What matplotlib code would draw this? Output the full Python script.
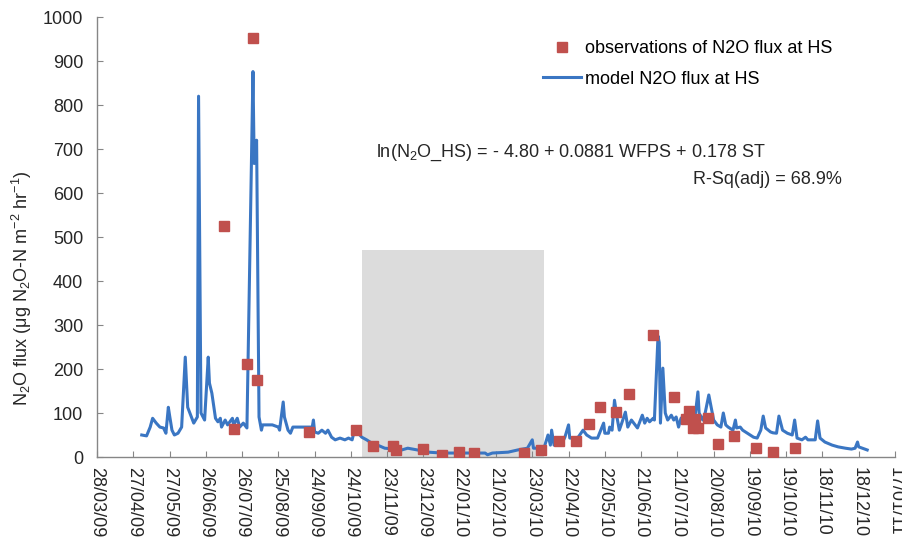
import pandas as pd
import matplotlib
matplotlib.use("Agg")
import matplotlib.pyplot as plt
import matplotlib.dates as mdates

plt.rcParams["font.family"] = ["Liberation Sans", "DejaVu Sans"]
plt.rcParams["mathtext.fontset"] = "custom"
plt.rcParams["mathtext.rm"] = "Liberation Sans"
plt.rcParams["mathtext.it"] = "Liberation Sans:italic"

# ── DATA ────────────────────────────────────────────────────────────
# observations of N2O flux at HS (ug N2O-N m-2 hr-1)
obs_dates = [
    "2009-07-11", "2009-08-04", "2009-07-30", "2009-08-07", "2009-07-19",
    "2009-09-19", "2009-10-28", "2009-11-11", "2009-11-28", "2009-11-30",
    "2009-12-23", "2010-01-07", "2010-01-21", "2010-02-03", "2010-03-16",
    "2010-03-30", "2010-04-14", "2010-04-28", "2010-05-09", "2010-05-18",
    "2010-05-31", "2010-06-11", "2010-07-01", "2010-07-18", "2010-07-28",
    "2010-07-31", "2010-08-03", "2010-08-05", "2010-08-07", "2010-08-15",
    "2010-08-24", "2010-09-06", "2010-09-24", "2010-10-08", "2010-10-26",
]
obs_flux = [
    524, 953, 211, 175, 64,
    57, 61, 25, 25, 16,
    18, 5, 11, 9, 9,
    16, 36, 36, 75, 113,
    102, 143, 277, 136, 86,
    104, 66, 86, 66, 89,
    30, 48, 20, 11, 20,
]

# model N2O flux at HS
model_dates = [
    "2009-05-04", "2009-05-08", "2009-05-11", "2009-05-13", "2009-05-16",
    "2009-05-19", "2009-05-22", "2009-05-24", "2009-05-26", "2009-05-27",
    "2009-05-29", "2009-05-31", "2009-06-03", "2009-06-06", "2009-06-09",
    "2009-06-11", "2009-06-15", "2009-06-16", "2009-06-19", "2009-06-20",
    "2009-06-22", "2009-06-25", "2009-06-28", "2009-06-29", "2009-07-01",
    "2009-07-04", "2009-07-06", "2009-07-08", "2009-07-09", "2009-07-12",
    "2009-07-14", "2009-07-18", "2009-07-19", "2009-07-22", "2009-07-24",
    "2009-07-27", "2009-07-30", "2009-08-04", "2009-08-05", "2009-08-07",
    "2009-08-09", "2009-08-11", "2009-08-12", "2009-08-20", "2009-08-25",
    "2009-08-26", "2009-08-29", "2009-08-30", "2009-09-02", "2009-09-04",
    "2009-09-06", "2009-09-22", "2009-09-23", "2009-09-24", "2009-09-27",
    "2009-09-30", "2009-10-03", "2009-10-05", "2009-10-08", "2009-10-11",
    "2009-10-15", "2009-10-19", "2009-10-22", "2009-10-25", "2009-10-27",
    "2009-10-30", "2009-11-02", "2009-11-06", "2009-11-10", "2009-11-15",
    "2009-11-21", "2009-11-29", "2009-12-05", "2009-12-10", "2009-12-18",
    "2009-12-27", "2010-01-07", "2010-01-21", "2010-02-04", "2010-02-12",
    "2010-02-14", "2010-02-18", "2010-03-03", "2010-03-11", "2010-03-19",
    "2010-03-23", "2010-03-24", "2010-03-28", "2010-04-02", "2010-04-05",
    "2010-04-07", "2010-04-08", "2010-04-10", "2010-04-13", "2010-04-17",
    "2010-04-19", "2010-04-22", "2010-04-23", "2010-04-27", "2010-04-30",
    "2010-05-04", "2010-05-07", "2010-05-11", "2010-05-16", "2010-05-21",
    "2010-05-22", "2010-05-25", "2010-05-26", "2010-05-28", "2010-05-30",
    "2010-06-01", "2010-06-03", "2010-06-05", "2010-06-08", "2010-06-10",
    "2010-06-13", "2010-06-18", "2010-06-22", "2010-06-24", "2010-06-26",
    "2010-06-28", "2010-07-01", "2010-07-02", "2010-07-05", "2010-07-06",
    "2010-07-07", "2010-07-09", "2010-07-11", "2010-07-13", "2010-07-16",
    "2010-07-18", "2010-07-20", "2010-07-22", "2010-07-24", "2010-07-27",
    "2010-07-29", "2010-08-03", "2010-08-05", "2010-08-07", "2010-08-08",
    "2010-08-11", "2010-08-13", "2010-08-16", "2010-08-18", "2010-08-20",
    "2010-08-23", "2010-08-26", "2010-08-28", "2010-08-30", "2010-09-01",
    "2010-09-05", "2010-09-07", "2010-09-08", "2010-09-11", "2010-09-13",
    "2010-09-17", "2010-09-22", "2010-09-25", "2010-09-28", "2010-09-30",
    "2010-10-02", "2010-10-06", "2010-10-08", "2010-10-11", "2010-10-13",
    "2010-10-16", "2010-10-20", "2010-10-24", "2010-10-26", "2010-10-28",
    "2010-11-01", "2010-11-04", "2010-11-06", "2010-11-12", "2010-11-14",
    "2010-11-16", "2010-11-20", "2010-11-26", "2010-12-01", "2010-12-07",
    "2010-12-12", "2010-12-15", "2010-12-17", "2010-12-18", "2010-12-21",
    "2010-12-25",
]
model_flux = [
    50, 48, 68, 88, 77,
    68, 66, 54, 113, 95,
    61, 50, 54, 68, 227,
    113, 84, 77, 91, 820,
    100, 84, 227, 168, 145,
    88, 80, 88, 68, 84,
    73, 88, 73, 88, 68,
    77, 66, 876, 667, 720,
    91, 61, 73, 73, 68,
    61, 125, 91, 61, 54,
    68, 68, 84, 57, 54,
    61, 54, 61, 45, 39,
    43, 39, 43, 39, 61,
    54, 45, 39, 32, 27,
    20, 18, 16, 20, 16,
    11, 9, 9, 9, 9,
    5, 9, 11, 16, 20,
    39, 20, 20, 23, 50,
    27, 61, 27, 39, 34,
    45, 73, 43, 43, 45,
    61, 50, 43, 43, 77,
    54, 54, 68, 61, 129,
    91, 61, 77, 102, 68,
    84, 66, 95, 77, 88,
    80, 88, 84, 275, 260,
    77, 202, 100, 84, 95,
    84, 91, 68, 88, 95,
    84, 88, 100, 148, 100,
    84, 100, 141, 113, 84,
    73, 68, 100, 73, 68,
    61, 84, 66, 68, 61,
    54, 45, 43, 61, 93,
    66, 57, 55, 54, 93,
    61, 54, 50, 84, 43,
    39, 45, 39, 39, 82,
    43, 34, 27, 23, 20,
    18, 20, 34, 23, 20,
    16,
]

# x axis ticks every 30 days, grey block = unsampled winter period
tick_start = "2009-03-28"
tick_end = "2011-01-17"
winter_start = "2009-11-02"
winter_end = "2010-04-02"
winter_top = 470

# ── PLOT ────────────────────────────────────────────────────────────
obs_dates = pd.to_datetime(obs_dates)
model_dates = pd.to_datetime(model_dates)

fig = plt.figure(figsize=(9.02, 5.45), dpi=100)
ax = fig.add_axes([97 / 902, 88 / 545, 798 / 902, 440 / 545])

ax.fill_between(pd.to_datetime([winter_start, winter_end]), 0, winter_top,
                color="#DCDCDC", linewidth=0, zorder=0)

line, = ax.plot(model_dates, model_flux, color="#3A76C3",
                linewidth=2.2, zorder=2, label="model N2O flux at HS")
pts, = ax.plot(obs_dates, obs_flux, linestyle="none", marker="s",
               markersize=7.5, color="#C0504D", markeredgecolor="#C0504D",
               zorder=3, label="observations of N2O flux at HS")

ax.set_xlim(pd.Timestamp(tick_start), pd.Timestamp(tick_end))
ax.set_ylim(0, 1000)
ax.set_yticks(range(0, 1001, 100))
ax.set_xticks(pd.date_range(tick_start, tick_end, freq="30D"))
ax.xaxis.set_major_formatter(mdates.DateFormatter("%d/%m/%y"))

for s in ["top", "right"]:
    ax.spines[s].set_visible(False)
for s in ["left", "bottom"]:
    ax.spines[s].set_color("#868686")
    ax.spines[s].set_linewidth(1.0)

ax.tick_params(axis="both", direction="in", length=4, color="#868686",
               labelsize=13, labelcolor="#262626")
ax.tick_params(axis="y", pad=10)
ax.tick_params(axis="x", pad=7)
plt.setp(ax.get_xticklabels(), rotation=-90)

ax.set_ylabel(r"N$_2$O flux (μg N$_2$O-N m$^{-2}$ hr$^{-1}$)",
              fontsize=13, color="#262626")
ax.yaxis.set_label_coords(-0.079, 0.384)

ax.legend(handles=[pts, line], loc="upper left",
          bbox_to_anchor=(543 / 902, 1 - 40 / 545),
          bbox_transform=fig.transFigure, frameon=False, fontsize=13,
          handlelength=2.1, handletextpad=0.25, labelspacing=0.75,
          borderpad=0, borderaxespad=0)

fig.text(376 / 902, 1 - 153 / 545,
         r"ln(N$_2$O_HS) = - 4.80 + 0.0881 WFPS + 0.178 ST",
         fontsize=13, color="#262626", ha="left", va="center")
fig.text(842 / 902, 1 - 179 / 545, "R-Sq(adj) = 68.9%",
         fontsize=13, color="#262626", ha="right", va="center")

fig.savefig("out.png", dpi=100)
